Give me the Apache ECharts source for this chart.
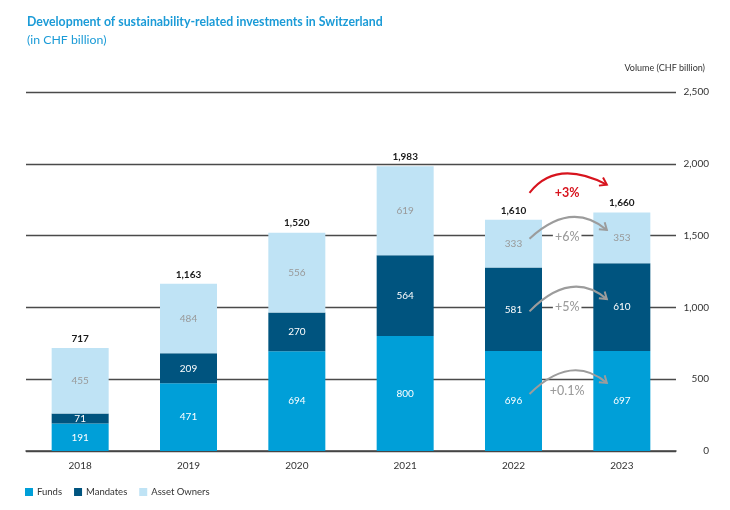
<!DOCTYPE html>
<html>
<head>
<meta charset="utf-8">
<script src="https://cdn.jsdelivr.net/npm/echarts@6/dist/echarts.min.js"></script>
<style>
  html, body { margin: 0; padding: 0; background: #fff; }
  #main { width: 730px; height: 510px; }
</style>
</head>
<body>
<div id="main"></div>
<script>
var years = ['2018', '2019', '2020', '2021', '2022', '2023'];
var funds = [191, 471, 694, 800, 696, 697];
var mandates = [71, 209, 270, 564, 581, 610];
var assetOwners = [455, 484, 556, 619, 333, 353];
var totals = [717, 1163, 1520, 1983, 1610, 1660];
var segmentChanges = ['+0.1%', '+5%', '+6%']; // funds, mandates, asset owners 2022 -> 2023
var totalChange = '+3%';
var yTicks = [0, 500, 1000, 1500, 2000, 2500];

var FONT = 'Lato';
var myChart = echarts.init(document.getElementById('main'));

function fmt(v) {
    return String(v).replace(/\B(?=(\d{3})+(?!\d))/g, ',');
}

function innerLabel(color) {
    return {
        show: true,
        position: 'inside',
        color: color,
        fontFamily: FONT,
        fontSize: 10,
        formatter: function (p) { return fmt(p.value); }
    };
}

var option = {
    animation: false,
    textStyle: { fontFamily: FONT },
    title: [{
        text: 'Development of sustainability-related investments in Switzerland',
        left: 22,
        top: 11,
        textStyle: { color: '#1b9bd7', fontSize: 12.3, fontWeight: 'bold', fontFamily: FONT }
    }, {
        text: '(in CHF billion)',
        left: 22,
        top: 29,
        textStyle: { color: '#1b9bd7', fontSize: 12.3, fontWeight: 'normal', fontFamily: FONT }
    }, {
        text: 'Volume (CHF billion)',
        right: 20,
        top: 59,
        textStyle: { color: '#333', fontSize: 9, fontWeight: 'normal', fontFamily: FONT }
    }],
    legend: {
        left: 20,
        top: 482,
        itemWidth: 8,
        itemHeight: 8,
        itemGap: 12,
        icon: 'rect',
        textStyle: { color: '#333', fontSize: 9.5, fontFamily: FONT, padding: [0, 0, 0, -1] },
        data: ['Funds', 'Mandates', 'Asset Owners']
    },
    grid: { left: 26, right: 54, top: 92, bottom: 59 },
    xAxis: {
        type: 'category',
        data: years,
        axisTick: { show: false },
        axisLine: { lineStyle: { color: '#444', width: 1.5 } },
        axisLabel: { color: '#333', fontSize: 10, margin: 10, fontFamily: FONT }
    },
    yAxis: {
        type: 'value',
        position: 'right',
        min: 0,
        max: yTicks[yTicks.length - 1],
        interval: 500,
        axisLine: { show: false },
        axisTick: { show: false },
        splitLine: { lineStyle: { color: '#4a4a4a', width: 1.4 } },
        axisLabel: {
            color: '#333', fontSize: 10, fontFamily: FONT,
            align: 'right', margin: 33,
            formatter: function (v) { return fmt(v); }
        }
    },
    series: [{
        name: 'Funds',
        type: 'bar',
        stack: 'vol',
        barWidth: 57,
        itemStyle: { color: '#009fd8' },
        label: innerLabel('#ffffff'),
        data: funds
    }, {
        name: 'Mandates',
        type: 'bar',
        stack: 'vol',
        itemStyle: { color: '#00547f' },
        label: innerLabel('#ffffff'),
        data: mandates
    }, {
        name: 'Asset Owners',
        type: 'bar',
        stack: 'vol',
        itemStyle: { color: '#bfe3f5' },
        label: innerLabel('#999999'),
        data: assetOwners
    }, {
        name: 'Total',
        type: 'line',
        symbol: 'circle',
        symbolSize: 1,
        itemStyle: { color: 'rgba(0,0,0,0)' },
        lineStyle: { width: 0, color: 'rgba(0,0,0,0)' },
        silent: true,
        z: 20,
        label: {
            show: true,
            position: 'top',
            distance: 4,
            color: '#1a1a1a',
            fontWeight: 'bold',
            fontSize: 10,
            fontFamily: FONT,
            formatter: function (p) { return fmt(p.value); }
        },
        data: totals
    }]
};
myChart.setOption(option);

// curved change arrows between 2022 and 2023
function arrow(x0, y0, x1, y1, cx, cy, color) {
    var ang = Math.atan2(y1 - cy, x1 - cx);
    var len = 8, spread = 0.6;
    var a1 = ang + Math.PI - spread, a2 = ang + Math.PI + spread;
    return [{
        type: 'bezierCurve',
        shape: { x1: x0, y1: y0, x2: x1, y2: y1, cpx1: cx, cpy1: cy },
        style: { stroke: color, lineWidth: 2, fill: null },
        z: 100
    }, {
        type: 'polyline',
        shape: { points: [
            [x1 + len * Math.cos(a1), y1 + len * Math.sin(a1)],
            [x1, y1],
            [x1 + len * Math.cos(a2), y1 + len * Math.sin(a2)]
        ] },
        style: { stroke: color, lineWidth: 2, fill: null },
        z: 100
    }];
}

function buildAnnotations() {
    var i0 = years.indexOf('2022'), i1 = years.indexOf('2023');
    var c0 = myChart.convertToPixel({ xAxisIndex: 0 }, years[i0]);
    var c1 = myChart.convertToPixel({ xAxisIndex: 0 }, years[i1]);
    var yPix = function (v) { return myChart.convertToPixel({ yAxisIndex: 0 }, v); };
    var xs = c0 + 16, xe = c1 - 15;
    var els = [];
    var stacks = [funds, mandates, assetOwners];
    var offs = [[-7, -18, -3], [2, -8, -4], [-5, -8, -2]]; // start dy, end dy, text dy
    for (var k = 0; k < stacks.length; k++) {
        var base0 = 0, base1 = 0;
        for (var j = 0; j < k; j++) { base0 += stacks[j][i0]; base1 += stacks[j][i1]; }
        var m0 = yPix(base0 + stacks[k][i0] / 2);
        var m1 = yPix(base1 + stacks[k][i1] / 2);
        var ys = m0 + offs[k][0], ye = m1 + offs[k][1];
        els = els.concat(arrow(xs, ys, xe, ye, (xs + xe) / 2 + 3, Math.min(ys, ye) - 30, '#9c9c9c'));
        els.push({
            type: 'text', x: (xs + xe) / 2 - 1, y: ys + offs[k][2], z: 100,
            style: { text: segmentChanges[k], fill: '#9c9c9c', font: '500 12.5px ' + FONT,
                     align: 'center', verticalAlign: 'middle', backgroundColor: '#fff', padding: [0, 2] }
        });
    }
    var t0 = yPix(totals[i0]), t1 = yPix(totals[i1]);
    var rs = t0 - 27, re = t1 - 28;
    els = els.concat(arrow(xs, rs, xe, re, (xs + xe) / 2 - 12, Math.min(rs, re) - 26, '#d7141e'));
    els.push({
        type: 'text', x: (xs + xe) / 2 - 1, y: rs, z: 100,
        style: { text: totalChange, fill: '#d7141e', font: 'bold 12.5px ' + FONT,
                 align: 'center', verticalAlign: 'middle' }
    });
    myChart.setOption({ graphic: els });
}
buildAnnotations();
</script>
</body>
</html>
